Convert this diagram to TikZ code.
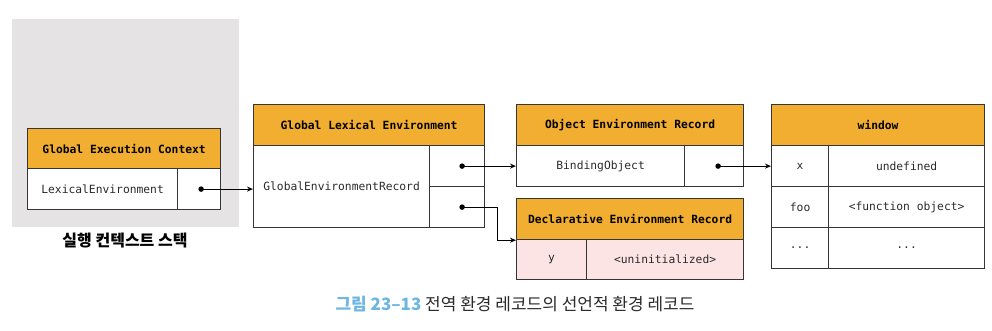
\documentclass[tikz,border=0pt]{standalone}
\usepackage{fontspec}
\setmonofont{DejaVu Sans Mono}
\newfontfamily\krfont{Noto Sans CJK KR}
\usetikzlibrary{arrows.meta}
\definecolor{hdorange}{HTML}{F2AE30}
\definecolor{cellpink}{HTML}{FCE4E4}
\definecolor{stackgray}{HTML}{E5E3E4}
\definecolor{linegray}{HTML}{363636}
\definecolor{capblue}{HTML}{6DB6E2}
\definecolor{captext}{HTML}{2A2A2A}
\begin{document}
\begin{tikzpicture}[x=1pt,y=-1pt,
  cell/.style={draw=linegray,line width=1.2pt,anchor=north west,inner sep=0pt,
    minimum height=41pt,font=\ttfamily\fontsize{11.3}{13}\selectfont,text=captext},
  head/.style={cell,fill=hdorange,font=\ttfamily\bfseries\fontsize{11.3}{13}\selectfont,text=black},
  pink/.style={cell,fill=cellpink},
  ptr/.style={-{Stealth[length=6pt,width=5pt]},line width=1pt},
  dot/.style={circle,fill=black,inner sep=0pt,minimum size=5.5pt}]
\useasboundingbox (0,0) rectangle (992,330);
\node[fill=stackgray,anchor=north west,minimum width=227pt,minimum height=208pt,inner sep=0pt] (stack) at (12,19) {};
\node[font=\krfont\bfseries\fontsize{16}{18}\selectfont] (stacklbl) at (125,241) {실행 컨텍스트 스택};
\node[head,minimum width=193pt,minimum height=40pt] (gech) at (27,128) {Global Execution Context};
\node[cell,fill=white,minimum width=150pt] (gecl) at (27,168) {LexicalEnvironment};
\node[cell,fill=white,minimum width=43pt] (gecp) at (177,168) {};
\node[head,minimum width=231pt] (gleh) at (253,104) {Global Lexical Environment};
\node[cell,minimum width=176pt,minimum height=82pt] (glel) at (253,145) {GlobalEnvironmentRecord};
\node[cell,minimum width=55pt] (glep1) at (429,145) {};
\node[cell,minimum width=55pt] (glep2) at (429,186) {};
\node[head,minimum width=227pt] (oerh) at (516,104) {Object Environment Record};
\node[cell,minimum width=168pt] (oerl) at (516,145) {BindingObject};
\node[cell,minimum width=59pt] (oerp) at (684,145) {};
\node[head,minimum width=227pt] (derh) at (516,198) {Declarative Environment Record};
\node[pink,minimum width=70pt,minimum height=40pt] (derk) at (516,239) {y};
\node[pink,minimum width=157pt,minimum height=40pt] (derv) at (586,239) {<uninitialized>};
\node[head,minimum width=213pt] (winh) at (771,104) {window};
\node[cell,minimum width=57pt] (wink1) at (771,145) {x};
\node[cell,minimum width=156pt] (winv1) at (828,145) {undefined};
\node[cell,minimum width=57pt] (wink2) at (771,186) {foo};
\node[cell,minimum width=156pt] (winv2) at (828,186) {<function object>};
\node[cell,minimum width=57pt] (wink3) at (771,227) {...};
\node[cell,minimum width=156pt] (winv3) at (828,227) {...};
\node[dot] (gecd) at ([xshift=2pt]gecp.center) {};
\node[dot] (gled1) at ([xshift=5pt]glep1.center) {};
\node[dot] (gled2) at ([xshift=5pt]glep2.center) {};
\node[dot] (oerd) at ([xshift=4pt]oerp.center) {};
\draw[ptr] (gecd.center) -- (gecd.center -| glel.west);
\draw[ptr] (gled1.center) -- (gled1.center -| oerl.west);
\draw[ptr] (gled2.center) -- ++(35,0) |- (derh.south west);
\draw[ptr] (oerd.center) -- (oerd.center -| wink1.west);
\node[font=\krfont\fontsize{17}{19}\selectfont,text=captext] (caption) at (515,304)
  {{\color{capblue}\bfseries 그림 23–13}\ 전역 환경 레코드의 선언적 환경 레코드};
\end{tikzpicture}
\end{document}
